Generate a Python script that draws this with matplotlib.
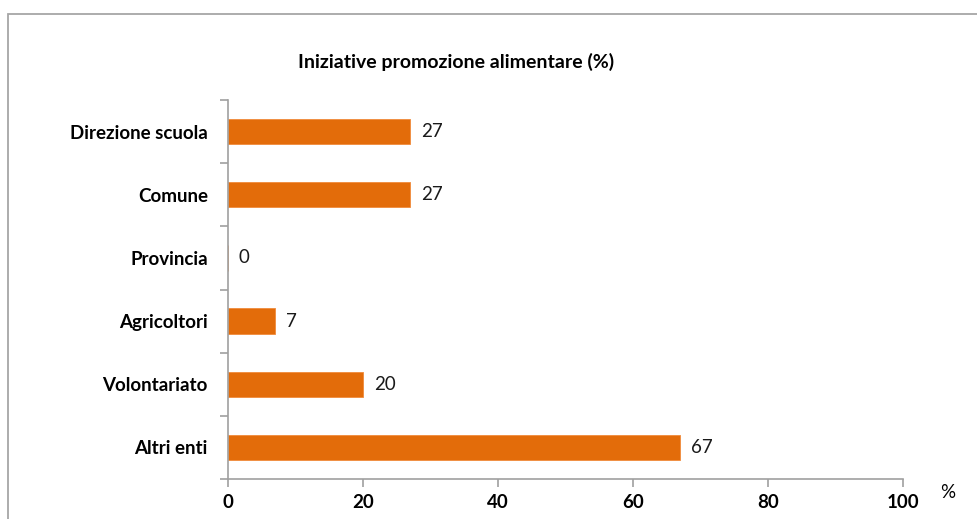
import matplotlib
matplotlib.use("Agg")
import matplotlib.pyplot as plt
from matplotlib.patches import Rectangle

categories = ["Direzione scuola", "Comune", "Provincia", "Agricoltori", "Volontariato", "Altri enti"]
values = [27, 27, 0, 7, 20, 67]
xticks = [0, 20, 40, 60, 80, 100]
title = "Iniziative promozione alimentare (%)"

plt.rcParams['font.family'] = ['Lato', 'DejaVu Sans']

fig = plt.figure(figsize=(9.77, 5.19), dpi=100)
fig.patches.append(Rectangle((8/977, -0.1), 1.2, 1 - 14/519 + 0.1, transform=fig.transFigure,
                             fill=False, edgecolor='#a6a6a6', linewidth=1.3, zorder=0))
ax = fig.add_axes([228/977, 1 - 479/519, (903 - 228)/977, (479 - 100)/519])

n = len(categories)
ypos = list(range(n))[::-1]
ax.barh(ypos, values, height=0.4, color='#E36C0A', edgecolor='#F08A3A', linewidth=0.6, zorder=2)
for y, v in zip(ypos, values):
    ax.text(v + 1.6, y, f"{v}", va='center', ha='left', fontsize=13.5, color='#1a1a1a')

ax.set_xlim(0, 100)
ax.set_ylim(-0.5, n - 0.5)
ax.set_xticks(xticks)
ax.set_xticklabels([str(t) for t in xticks], fontsize=13.5, fontweight='bold')
ax.set_yticks(ypos)
ax.set_yticklabels(categories, fontsize=13.5, fontweight='bold')
ax.tick_params(axis='y', length=0, pad=14.5)
ax.set_yticks([i - 0.5 for i in range(n + 1)], minor=True)
ax.tick_params(axis='y', which='minor', length=6, color='#a0a0a0', width=1.2)
ax.tick_params(axis='x', length=6, color='#a0a0a0', width=1.2, pad=4.5)
for s in ['top', 'right']:
    ax.spines[s].set_visible(False)
for s in ['left', 'bottom']:
    ax.spines[s].set_color('#a0a0a0')
    ax.spines[s].set_linewidth(1.2)

fig.text(456/977, 1 - 62/519, title, ha='center', va='center', fontsize=14, fontweight='bold')
fig.text(948/977, 1 - 492/519, "%", ha='center', va='center', fontsize=13.5)

fig.savefig("out.png", dpi=100)
